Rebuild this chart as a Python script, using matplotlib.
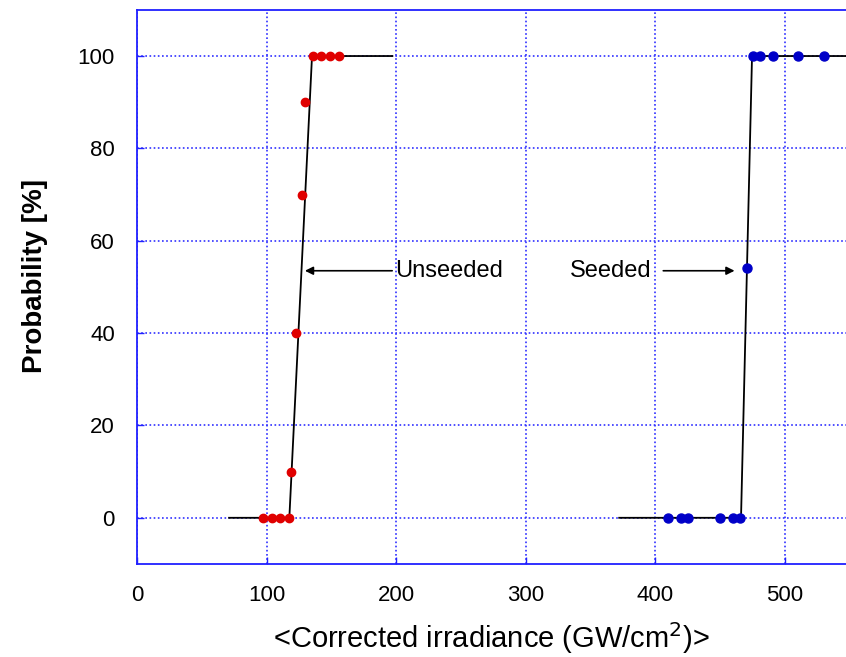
import matplotlib.pyplot as plt

# unseeded shots (red)
unseeded_x = [97, 104, 110, 117, 118.7, 123, 127, 129.5, 136, 142, 148.5, 156]
unseeded_p = [0, 0, 0, 0, 10, 40, 70, 90, 100, 100, 100, 100]
# fitted step for unseeded
unseeded_fit_x = [71, 117.5, 135, 197]
unseeded_fit_p = [0, 0, 100, 100]

# seeded shots (blue)
seeded_x = [410, 420, 425, 450, 460, 465, 471, 475, 481, 491, 510, 530]
seeded_p = [0, 0, 0, 0, 0, 0, 54, 100, 100, 100, 100, 100]
seeded_fit_x = [372, 466, 474.5, 550]
seeded_fit_p = [0, 0, 100, 100]

xticks = [0, 100, 200, 300, 400, 500]
yticks = [0, 20, 40, 60, 80, 100]

sans = ['Liberation Sans', 'DejaVu Sans']

fig = plt.figure(figsize=(8.46, 6.57), dpi=100)
ax = fig.add_axes([0.162, 0.1416, 0.838, 0.8434])

ax.plot(unseeded_fit_x, unseeded_fit_p, color='black', lw=1.3, zorder=2)
ax.plot(seeded_fit_x, seeded_fit_p, color='black', lw=1.3, zorder=2)
ax.plot(unseeded_x, unseeded_p, 'o', color='#e00000', ms=6, zorder=3)
ax.plot(seeded_x, seeded_p, 'o', color='#0000c8', ms=6.5, zorder=3)

ax.set_xlim(0, 547)
ax.set_ylim(-10, 110)
ax.set_xticks(xticks)
ax.set_yticks(yticks)
ax.grid(True, color='#3030ff', linestyle=(0, (1, 1.5)), lw=1.2)
ax.set_axisbelow(True)

for side in ['left', 'bottom', 'top']:
    ax.spines[side].set_color('#2020ff')
    ax.spines[side].set_linewidth(1.3)
ax.spines['right'].set_visible(False)
ax.tick_params(direction='in', length=5, color='#2020ff', width=1,
               labelsize=16)
ax.tick_params(axis='x', pad=15)
ax.tick_params(axis='y', pad=16)
for lab in ax.get_xticklabels() + ax.get_yticklabels():
    lab.set_family(sans)

ax.set_xlabel('<Corrected irradiance (GW/cm$^2$)>', family=sans,
              fontsize=21, labelpad=10)
ax.set_ylabel('Probability [%]', family=sans,
              fontweight='bold', fontsize=20)
ax.yaxis.set_label_coords(-0.126, 0.52)

arrow = dict(arrowstyle='-|>', color='black', lw=1.2, mutation_scale=12,
             shrinkA=0, shrinkB=0)
ax.annotate('Unseeded', xy=(129.5, 53.5), xytext=(199, 53.5),
            fontsize=17, family=sans, va='center', ha='left',
            arrowprops=arrow)
ax.annotate('', xy=(461, 53.5), xytext=(406, 53.5), arrowprops=arrow)
ax.text(397, 53.5, 'Seeded', fontsize=17, family=sans, va='center',
        ha='right')

fig.savefig('out.png', dpi=100)
